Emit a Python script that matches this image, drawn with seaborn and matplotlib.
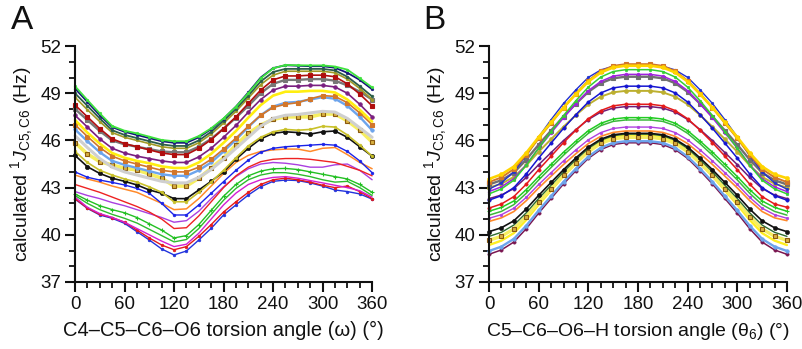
import matplotlib
matplotlib.use("Agg")
import matplotlib.pyplot as plt
from matplotlib.ticker import MultipleLocator
import seaborn as sns
import pandas as pd

sns.set_style("ticks")
plt.rcParams['font.family'] = ['Liberation Sans', 'DejaVu Sans']
plt.rcParams['mathtext.fontset'] = 'custom'
plt.rcParams['mathtext.rm'] = 'Liberation Sans'
plt.rcParams['mathtext.it'] = 'Liberation Sans:italic'

angles = [0, 15, 30, 45, 60, 75, 90, 105, 120, 135, 150, 165, 180, 195, 210,
          225, 240, 255, 270, 285, 300, 315, 330, 345, 360]

# ---------------- Panel A : J(C5,C6) vs omega ----------------
a_lime = [49.45, 48.57, 47.72, 46.92, 46.62, 46.45, 46.24, 46.03, 45.95, 45.95, 46.28, 46.77, 47.4, 48.14, 49.0, 49.95, 50.58, 50.8, 50.78, 50.77, 50.77, 50.7, 50.5, 49.95, 49.37]
a_navy = [49.3, 48.45, 47.6, 46.85, 46.55, 46.35, 46.15, 45.95, 45.85, 45.85, 46.2, 46.72, 47.38, 48.15, 49.05, 50.0, 50.6, 50.78, 50.75, 50.72, 50.72, 50.62, 50.3, 49.85, 49.25]
a_dkgreen = [49.0, 48.2, 47.4, 46.65, 46.35, 46.15, 45.95, 45.75, 45.65, 45.65, 46.0, 46.55, 47.25, 48.0, 48.85, 49.75, 50.35, 50.55, 50.55, 50.55, 50.55, 50.45, 50.05, 49.45, 48.8]
a_olive = [48.75, 47.95, 47.2, 46.5, 46.2, 46.0, 45.8, 45.6, 45.5, 45.5, 45.85, 46.4, 47.1, 47.85, 48.7, 49.55, 50.15, 50.4, 50.4, 50.4, 50.4, 50.3, 49.9, 49.3, 48.6]
a_darkred = [48.25, 47.5, 46.75, 46.1, 45.8, 45.6, 45.4, 45.2, 45.1, 45.1, 45.5, 46.05, 46.75, 47.5, 48.35, 49.2, 49.85, 50.1, 50.1, 50.15, 50.15, 50.05, 49.6, 48.95, 48.2]
a_gray = [48.0, 47.3, 46.6, 46.0, 45.75, 45.6, 45.45, 45.3, 45.25, 45.25, 45.6, 46.1, 46.75, 47.45, 48.2, 49.0, 49.6, 49.85, 49.85, 49.9, 49.9, 49.8, 49.5, 49.1, 48.6]
a_purple = [47.6, 46.85, 46.1, 45.5, 45.2, 45.0, 44.85, 44.7, 44.6, 44.6, 44.95, 45.5, 46.2, 46.95, 47.8, 48.6, 49.2, 49.45, 49.45, 49.5, 49.5, 49.4, 49.0, 48.3, 47.5]
a_yellow = [47.3, 46.5, 45.8, 45.2, 44.9, 44.7, 44.55, 44.35, 44.25, 44.25, 44.6, 45.15, 45.85, 46.6, 47.45, 48.25, 48.85, 49.1, 49.1, 49.15, 49.15, 49.05, 48.6, 47.95, 47.2]
a_choc = [47.0, 46.25, 45.55, 45.0, 44.7, 44.5, 44.3, 44.1, 44.0, 44.0, 44.3, 44.8, 45.45, 46.15, 46.9, 47.6, 48.1, 48.3, 48.4, 48.65, 48.85, 48.8, 48.4, 47.75, 47.0]
a_cblue = [46.7, 45.95, 45.25, 44.7, 44.45, 44.25, 44.05, 43.85, 43.75, 43.75, 44.1, 44.6, 45.3, 46.05, 46.85, 47.6, 48.15, 48.4, 48.45, 48.6, 48.75, 48.65, 48.2, 47.5, 46.65]
a_ltgray = [46.3, 45.55, 44.85, 44.3, 44.0, 43.8, 43.6, 43.4, 43.3, 43.3, 43.65, 44.15, 44.8, 45.5, 46.2, 46.9, 47.4, 47.6, 47.65, 47.75, 47.85, 47.8, 47.4, 46.8, 46.2]
a_squares = [45.86, 45.14, 44.65, 44.44, 44.23, 44.12, 43.87, 43.6, 43.1, 43.1, 43.6, 44.23, 44.9, 45.7, 46.45, 46.98, 47.34, 47.5, 47.5, 47.5, 47.68, 47.68, 47.25, 46.66, 45.9]
a_yolive = [45.3, 44.6, 44.1, 43.8, 43.55, 43.35, 43.05, 42.7, 42.1, 42.1, 42.7, 43.35, 44.1, 44.9, 45.65, 46.2, 46.55, 46.7, 46.65, 46.7, 46.9, 46.85, 46.35, 45.7, 45.0]
a_black = [45.05, 44.33, 43.9, 43.6, 43.4, 43.17, 42.85, 42.64, 42.3, 42.3, 42.85, 43.4, 44.0, 44.8, 45.5, 46.1, 46.45, 46.55, 46.5, 46.4, 46.55, 46.6, 46.2, 45.6, 45.0]
a_blue = [44.0, 43.66, 43.48, 43.33, 43.17, 42.95, 42.64, 42.0, 41.26, 41.26, 41.9, 42.64, 43.38, 44.1, 44.75, 45.25, 45.5, 45.6, 45.65, 45.7, 45.75, 45.7, 45.3, 44.7, 43.95]
a_orange = [43.8, 43.55, 43.35, 43.1, 42.9, 42.7, 42.35, 42.0, 41.6, 41.65, 42.3, 43.1, 43.9, 44.6, 45.05, 45.3, 45.4, 45.45, 45.45, 45.3, 45.5, 45.55, 45.1, 44.6, 44.2]
a_red = [43.2, 42.95, 42.7, 42.4, 42.1, 41.8, 41.45, 41.0, 40.4, 40.45, 41.2, 42.1, 43.0, 43.75, 44.3, 44.65, 44.8, 44.85, 44.85, 44.8, 44.7, 44.6, 44.35, 44.1, 43.75]
a_orchid = [42.75, 42.5, 42.3, 42.05, 41.85, 41.6, 41.35, 41.1, 40.8, 40.9, 41.5, 42.3, 43.05, 43.7, 44.2, 44.5, 44.6, 44.55, 44.45, 44.3, 44.3, 44.45, 44.5, 44.1, 43.5]
a_green = [42.6, 42.2, 41.85, 41.6, 41.4, 41.1, 40.7, 40.3, 39.8, 39.95, 40.65, 41.55, 42.45, 43.2, 43.75, 44.05, 44.2, 44.22, 44.15, 44.0, 43.85, 43.7, 43.55, 43.2, 42.7]
a_green2 = [42.5, 42.0, 41.6, 41.3, 41.05, 40.75, 40.35, 39.95, 39.55, 39.7, 40.4, 41.3, 42.2, 42.95, 43.5, 43.8, 43.95, 43.95, 43.85, 43.7, 43.5, 43.35, 43.4, 43.0, 42.5]
a_magenta = [42.4, 41.75, 41.35, 41.1, 40.8, 40.4, 40.0, 39.6, 39.25, 39.4, 40.1, 41.0, 41.9, 42.65, 43.2, 43.5, 43.65, 43.7, 43.6, 43.45, 43.3, 43.15, 43.0, 42.8, 42.4]
a_red2 = [42.3, 41.7, 41.3, 41.1, 40.8, 40.3, 39.8, 39.35, 39.05, 39.25, 39.9, 40.65, 41.45, 42.1, 42.7, 43.2, 43.5, 43.6, 43.5, 43.35, 43.15, 43.0, 43.1, 42.75, 42.3]
a_blue2 = [42.27, 41.68, 41.26, 41.05, 40.73, 40.2, 39.67, 39.1, 38.72, 38.97, 39.67, 40.41, 41.26, 41.9, 42.53, 43.06, 43.4, 43.48, 43.45, 43.3, 43.1, 42.85, 42.75, 42.6, 42.27]

# ---------------- Panel B : J(C5,C6) vs theta6 ----------------
b_gold = [43.55, 43.84, 44.34, 45.21, 46.21, 47.15, 48.09, 48.95, 49.74, 50.32, 50.64, 50.75, 50.75, 50.75, 50.64, 50.32, 49.74, 48.95, 48.09, 47.15, 46.21, 45.21, 44.34, 43.84, 43.6]
b_choc = [43.35, 43.65, 44.18, 45.08, 46.13, 47.1, 48.08, 48.98, 49.8, 50.4, 50.74, 50.85, 50.85, 50.85, 50.74, 50.4, 49.8, 48.98, 48.08, 47.1, 46.13, 45.08, 44.18, 43.65, 43.35]
b_blue = [42.9, 43.3, 44.01, 45.03, 46.22, 47.32, 48.35, 49.22, 50.01, 50.48, 50.72, 50.8, 50.8, 50.8, 50.72, 50.48, 50.01, 49.22, 48.35, 47.32, 46.22, 45.03, 44.01, 43.3, 42.9]
b_green = [42.6, 42.92, 43.47, 44.42, 45.52, 46.55, 47.58, 48.53, 49.39, 50.03, 50.38, 50.5, 50.5, 50.5, 50.38, 50.03, 49.39, 48.53, 47.58, 46.55, 45.52, 44.42, 43.47, 42.92, 42.6]
b_violet = [42.75, 43.05, 43.57, 44.46, 45.51, 46.48, 47.44, 48.34, 49.16, 49.75, 50.09, 50.2, 50.2, 50.2, 50.09, 49.75, 49.16, 48.34, 47.44, 46.48, 45.51, 44.46, 43.57, 43.05, 42.75]
b_gray = [43.2, 43.47, 43.95, 44.78, 45.73, 46.63, 47.52, 48.34, 49.09, 49.64, 49.95, 50.05, 50.05, 50.05, 49.95, 49.64, 49.09, 48.34, 47.52, 46.63, 45.73, 44.78, 43.95, 43.47, 43.2]
b_blue2 = [42.2, 42.49, 43.0, 43.87, 44.88, 45.83, 46.77, 47.64, 48.44, 49.02, 49.34, 49.45, 49.45, 49.45, 49.34, 49.02, 48.44, 47.64, 46.77, 45.83, 44.88, 43.87, 43.0, 42.49, 42.2]
b_olive = [43.0, 43.25, 43.68, 44.41, 45.28, 46.08, 46.87, 47.61, 48.29, 48.78, 49.06, 49.15, 49.15, 49.15, 49.06, 48.78, 48.29, 47.61, 46.87, 46.08, 45.28, 44.41, 43.68, 43.25, 43.0]
b_red = [41.7, 41.96, 42.43, 43.22, 44.14, 45.0, 45.86, 46.65, 47.38, 47.9, 48.2, 48.3, 48.3, 48.3, 48.2, 47.9, 47.38, 46.65, 45.86, 45.0, 44.14, 43.22, 42.43, 41.96, 41.75]
b_purple = [42.3, 42.53, 42.94, 43.65, 44.46, 45.23, 45.99, 46.69, 47.33, 47.8, 48.06, 48.15, 48.15, 48.15, 48.06, 47.8, 47.33, 46.69, 45.99, 45.23, 44.46, 43.65, 42.94, 42.53, 42.3]
b_lime = [41.5, 41.74, 42.15, 42.87, 43.7, 44.48, 45.25, 45.96, 46.62, 47.09, 47.36, 47.45, 47.45, 47.45, 47.36, 47.09, 46.62, 45.96, 45.25, 44.48, 43.7, 42.87, 42.15, 41.74, 41.5]
b_green2 = [41.25, 41.49, 41.92, 42.64, 43.49, 44.28, 45.06, 45.79, 46.45, 46.94, 47.21, 47.3, 47.3, 47.3, 47.21, 46.94, 46.45, 45.79, 45.06, 44.28, 43.49, 42.64, 41.92, 41.49, 41.25]
b_orchid = [41.05, 41.28, 41.69, 42.38, 43.2, 43.95, 44.7, 45.4, 46.04, 46.5, 46.76, 46.85, 46.85, 46.85, 46.76, 46.5, 46.04, 45.4, 44.7, 43.95, 43.2, 42.38, 41.69, 41.28, 41.05]
b_orange = [40.85, 41.08, 41.48, 42.17, 42.98, 43.73, 44.47, 45.16, 45.8, 46.26, 46.51, 46.6, 46.6, 46.6, 46.51, 46.26, 45.8, 45.16, 44.47, 43.73, 42.98, 42.17, 41.48, 41.08, 40.9]
b_dkgreen = [39.9, 40.16, 40.62, 41.4, 42.31, 43.15, 44.0, 44.78, 45.49, 46.01, 46.3, 46.4, 46.4, 46.4, 46.3, 46.01, 45.49, 44.78, 44.0, 43.15, 42.31, 41.4, 40.62, 40.16, 39.9]
b_black = [40.2, 40.45, 40.89, 41.64, 42.51, 43.33, 44.14, 44.89, 45.58, 46.08, 46.36, 46.45, 46.45, 46.45, 46.36, 46.08, 45.58, 44.89, 44.14, 43.33, 42.51, 41.64, 40.89, 40.45, 40.2]
b_squares = [39.65, 39.91, 40.37, 41.16, 42.07, 42.93, 43.78, 44.56, 45.28, 45.81, 46.1, 46.2, 46.2, 46.2, 46.1, 45.81, 45.28, 44.56, 43.78, 42.93, 42.07, 41.16, 40.37, 39.91, 39.65]
b_yellow = [39.35, 39.63, 40.11, 40.95, 41.92, 42.83, 43.73, 44.56, 45.33, 45.88, 46.2, 46.3, 46.3, 46.3, 46.2, 45.88, 45.33, 44.56, 43.73, 42.83, 41.92, 40.95, 40.11, 39.63, 39.35]
b_cblue = [38.97, 39.25, 39.74, 40.58, 41.55, 42.46, 43.37, 44.21, 44.97, 45.53, 45.85, 45.95, 45.95, 45.95, 45.85, 45.53, 44.97, 44.21, 43.37, 42.46, 41.55, 40.58, 39.74, 39.25, 38.97]
b_maroon = [38.76, 39.04, 39.54, 40.39, 41.38, 42.31, 43.23, 44.08, 44.86, 45.42, 45.74, 45.85, 45.85, 45.85, 45.74, 45.42, 44.86, 44.08, 43.23, 42.31, 41.38, 40.39, 39.54, 39.04, 38.76]

yticks = [37, 40, 43, 46, 49, 52]
xticks = [0, 60, 120, 180, 240, 300, 360]

# style: (values, color, linewidth, marker, markersize, marker face, marker edge)
DOT = 'o'
series_a = [
    (a_blue2, '#2233DD', 1.0, DOT, 2.0, None, None),
    (a_red2, '#E41A1A', 1.0, DOT, 2.0, None, None),
    (a_magenta, '#D21FD2', 1.0, None, 0, None, None),
    (a_green2, '#2DBB2D', 1.0, None, 0, None, None),
    (a_green, '#22C022', 1.0, '+', 2.8, None, None),
    (a_orchid, '#A93FE0', 1.0, None, 0, None, None),
    (a_red, '#EE2222', 1.0, None, 0, None, None),
    (a_orange, '#FF8A2A', 1.1, None, 0, None, None),
    (a_blue, '#1A22E8', 1.0, DOT, 2.0, None, None),
    (a_black, '#111111', 1.2, DOT, 3.2, None, None),
    (a_yolive, '#C9C12A', 1.2, DOT, 2.0, None, None),
    (a_squares, '#F6EE60', 2.6, 's', 3.3, '#D8B040', '#8A5A10'),
    (a_ltgray, '#CFCFCF', 2.2, None, 0, None, None),
    (a_cblue, '#6CA4EC', 1.7, DOT, 2.6, None, None),
    (a_choc, '#D2762A', 1.2, 's', 2.7, None, None),
    (a_yellow, '#FFEE10', 1.9, None, 0, None, None),
    (a_purple, '#7A1F80', 1.2, DOT, 2.7, None, None),
    (a_gray, '#777777', 1.7, 's', 2.7, None, None),
    (a_darkred, '#B00E0E', 1.2, 's', 2.5, None, None),
    (a_olive, '#A09A25', 1.2, DOT, 2.0, None, None),
    (a_dkgreen, '#2B5E48', 1.3, DOT, 2.0, None, None),
    (a_navy, '#14147A', 1.3, DOT, 1.9, None, None),
    (a_lime, '#3EE23E', 1.3, DOT, 1.9, None, None),
]

series_b = [
    (b_maroon, '#7A1650', 1.1, DOT, 2.4, None, None),
    (b_cblue, '#6CA4EC', 1.7, DOT, 2.6, None, None),
    (b_yellow, '#FFEE22', 1.7, None, 0, None, None),
    (b_squares, '#F6EE60', 2.4, 's', 3.2, '#D8B040', '#8A5A10'),
    (b_dkgreen, '#2E6B2E', 1.0, None, 0, None, None),
    (b_black, '#111111', 1.2, DOT, 3.0, None, None),
    (b_orange, '#FF8A2A', 1.2, None, 0, None, None),
    (b_orchid, '#B040E0', 1.0, DOT, 1.9, None, None),
    (b_green2, '#3CB83C', 1.1, None, 0, None, None),
    (b_lime, '#22CC22', 1.1, '+', 2.8, None, None),
    (b_purple, '#701C78', 1.1, DOT, 2.4, None, None),
    (b_red, '#E41A1A', 1.1, DOT, 2.4, None, None),
    (b_olive, '#BDB030', 1.4, DOT, 2.9, None, None),
    (b_blue2, '#1515D0', 1.1, DOT, 2.4, None, None),
    (b_gray, '#707070', 1.7, 's', 2.9, None, None),
    (b_violet, '#A020E0', 1.1, DOT, 2.0, None, None),
    (b_green, '#33D033', 1.1, DOT, 1.9, None, None),
    (b_blue, '#2030D0', 1.0, DOT, 1.9, None, None),
    (b_choc, '#D2762A', 1.4, 's', 3.0, None, None),
    (b_gold, '#FFD400', 1.9, 'o', 2.9, None, None),
]

fig = plt.figure(figsize=(8.03, 3.49), dpi=100)
axA = fig.add_axes([0.0934, 0.192, 0.370, 0.676])
axB = fig.add_axes([0.609, 0.192, 0.371, 0.676])


def draw(ax, series):
    for vals, col, lw, mk, ms, mfc, mec in series:
        df = pd.DataFrame({'angle': angles, 'J': vals})
        kw = dict(color=col, linewidth=lw)
        if mk is not None:
            kw.update(marker=mk, markersize=ms,
                      markerfacecolor=mfc if mfc else col,
                      markeredgecolor=mec if mec else col,
                      markeredgewidth=0.8 if mk in ('+', 's') else 0.4)
        sns.lineplot(data=df, x='angle', y='J', ax=ax, clip_on=False, **kw)


draw(axA, series_a)
draw(axB, series_b)

for ax in (axA, axB):
    ax.set_xlim(0, 360)
    ax.set_ylim(37, 52)
    ax.set_xticks(xticks)
    ax.set_yticks(yticks)
    ax.xaxis.set_minor_locator(MultipleLocator(15))
    ax.yaxis.set_minor_locator(MultipleLocator(1))
    for s in ('top', 'right'):
        ax.spines[s].set_visible(False)
    for s in ('left', 'bottom'):
        ax.spines[s].set_linewidth(1.5)
        ax.spines[s].set_color('#111111')
    ax.tick_params(which='major', length=7, width=1.5, labelsize=13.5,
                   color='#111111', labelcolor='#111111', pad=3)
    ax.tick_params(which='minor', length=4.5, width=1.3, color='#111111')
    ax.set_ylabel(r'calculated $^{1}\mathit{J}_{\rm C5,C6}$ (Hz)',
                  fontsize=14, labelpad=4, color='#111111')

axA.set_xlabel('C4\u2013C5\u2013C6\u2013O6 torsion angle (\u03c9) (\u00b0)',
               fontsize=14.5, labelpad=6, color='#111111')
axB.set_xlabel('C5\u2013C6\u2013O6\u2013H torsion angle (\u03b8$_6$) (\u00b0)',
               fontsize=14, labelpad=6, color='#111111')

fig.text(0.013, 0.985, 'A', fontsize=24, va='top', ha='left', color='#111111')
fig.text(0.527, 0.985, 'B', fontsize=24, va='top', ha='left', color='#111111')

fig.savefig('out.png', dpi=100)
